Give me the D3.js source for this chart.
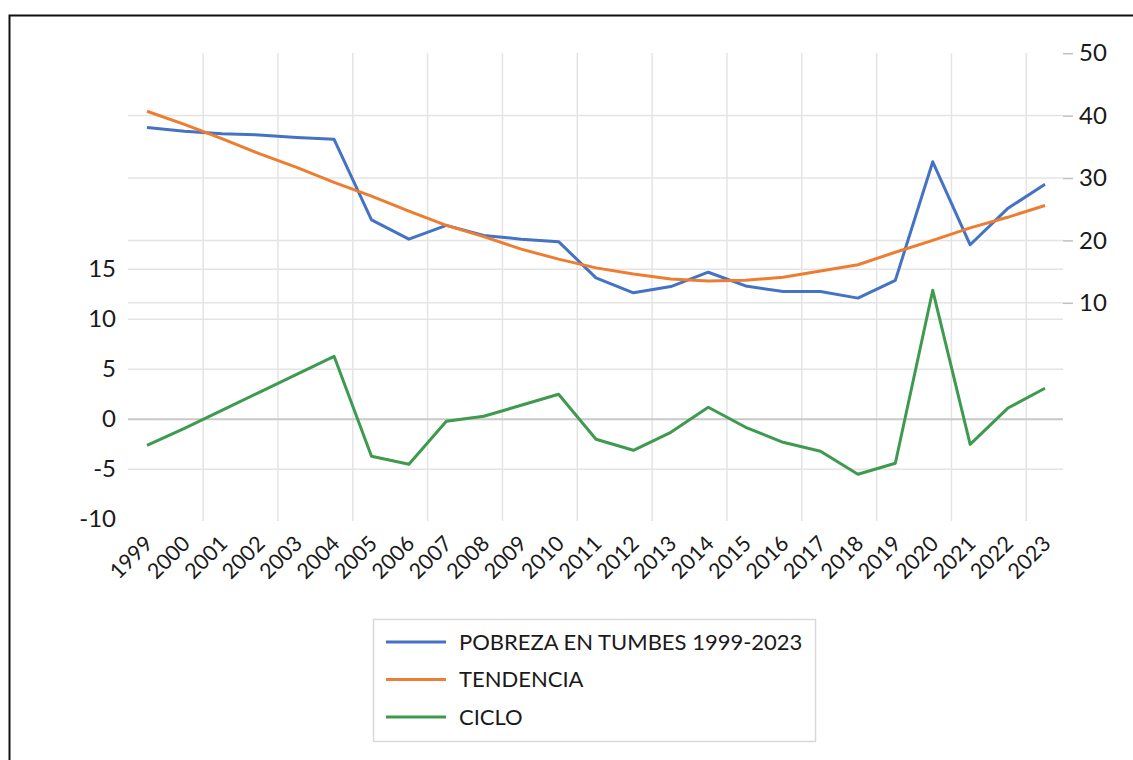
<!DOCTYPE html>
<html>
<head>
<meta charset="utf-8">
<script src="https://cdn.jsdelivr.net/npm/d3@7"></script>
<style>
  body { margin: 0; background: #fff; }
  svg text { font-family: Lato, "Noto Sans", sans-serif; fill: #1a1a1a; }
</style>
</head>
<body>
<svg width="1133" height="760"></svg>
<script>
// valores
var years = ["1999","2000","2001","2002","2003","2004","2005","2006","2007","2008","2009","2010",
             "2011","2012","2013","2014","2015","2016","2017","2018","2019","2020","2021","2022","2023"];
var pobreza = [38.1, 37.5, 37.1, 36.9, 36.5, 36.2, 23.3, 20.2, 22.4, 20.8, 20.2, 19.8,
               14.0, 11.6, 12.6, 14.9, 12.7, 11.8, 11.8, 10.75, 13.6, 32.6, 19.3, 25.1, 29.0];
var tendencia = [40.7, 38.6, 36.3, 33.9, 31.7, 29.3, 27.1, 24.7, 22.4, 20.6, 18.6, 17.0,
                 15.6, 14.6, 13.8, 13.5, 13.6, 14.1, 15.1, 16.1, 18.1, 20.0, 22.0, 23.7, 25.6];
var ciclo = [-2.6, -0.9, 0.9, 2.7, 4.5, 6.3, -3.7, -4.5, -0.2, 0.3, 1.4, 2.5,
             -2.0, -3.1, -1.3, 1.2, -0.8, -2.3, -3.2, -5.5, -4.4, 12.9, -2.5, 1.1, 3.1];
var leftTicks = [-10, -5, 0, 5, 10, 15];
var rightTicks = [10, 20, 30, 40, 50];
var seriesNames = ["POBREZA EN TUMBES 1999-2023", "TENDENCIA", "CICLO"];
var seriesColors = ["#4472c4", "#ed7d31", "#3e9a4f"];

var svg = d3.select("svg");

// marco negro
svg.append("rect")
    .attr("x", 9.5).attr("y", 15.5)
    .attr("width", 1200).attr("height", 900)
    .attr("fill", "none").attr("stroke", "#111").attr("stroke-width", 2);

var plotLeft = 128, plotRight = 1063, plotTop = 53, plotBottom = 521;

var x = d3.scaleLinear().domain([0, years.length - 1]).range([147, 1045]);
var yLeft = d3.scaleLinear().domain([-10, 15]).range([519.3, 269.3]);
var yRight = d3.scaleLinear().domain([10, 50]).range([302.8, 53.2]);

var grid = svg.append("g");

// lineas verticales (cada dos anios, entre categorias)
grid.selectAll("line.v")
    .data(d3.range(1.5, years.length, 2))
    .enter()
    .append("line")
    .attr("x1", function(d){ return x(d); })
    .attr("x2", function(d){ return x(d); })
    .attr("y1", plotTop).attr("y2", plotBottom)
    .attr("stroke", "#e4e4e4").attr("stroke-width", 1.5);

// horizontales del eje derecho
grid.selectAll("line.hr")
    .data(rightTicks.filter(function(t){ return t < 50; }))
    .enter()
    .append("line")
    .attr("x1", plotLeft).attr("x2", plotRight)
    .attr("y1", function(d){ return yRight(d); })
    .attr("y2", function(d){ return yRight(d); })
    .attr("stroke", "#e4e4e4").attr("stroke-width", 1.5);

// horizontales del eje izquierdo
grid.selectAll("line.hl")
    .data(leftTicks.filter(function(t){ return t > -10; }))
    .enter()
    .append("line")
    .attr("x1", plotLeft).attr("x2", plotRight)
    .attr("y1", function(d){ return yLeft(d); })
    .attr("y2", function(d){ return yLeft(d); })
    .attr("stroke", function(d){ return d == 0 ? "#c8c8c8" : "#e4e4e4"; })
    .attr("stroke-width", function(d){ return d == 0 ? 2 : 1.5; });

// eje izquierdo (guion normal como en excel)
var leftAxis = d3.axisLeft(yLeft).tickValues(leftTicks).tickSize(0).tickPadding(0)
    .tickFormat(function(d){ return String(d); });
svg.append("g")
    .attr("transform", "translate(116,0)")
    .call(leftAxis)
    .call(function(g){
        g.select(".domain").remove();
        g.selectAll("text").attr("font-size", 24).attr("fill", "#1a1a1a")
            .style("font-family", "Lato, 'Noto Sans', sans-serif");
    });

// eje derecho
var rightAxis = d3.axisRight(yRight).tickValues(rightTicks).tickSize(10).tickPadding(6);
svg.append("g")
    .attr("transform", "translate(" + plotRight + ",0)")
    .call(rightAxis)
    .call(function(g){
        g.select(".domain").remove();
        g.selectAll("line").attr("stroke", "#bfbfbf").attr("stroke-width", 1.5);
        g.selectAll("text").attr("font-size", 24).attr("fill", "#1a1a1a")
            .style("font-family", "Lato, 'Noto Sans', sans-serif");
    });

// etiquetas de anios giradas
svg.append("g")
    .selectAll("text")
    .data(years)
    .enter()
    .append("text")
    .attr("transform", function(d, i){
        return "translate(" + (x(i) + 7) + ",545) rotate(-45)";
    })
    .attr("text-anchor", "end")
    .attr("font-size", 21.5)
    .text(function(d){ return d; });

// lineas de datos
var lineRight = d3.line()
    .x(function(d, i){ return x(i); })
    .y(function(d){ return yRight(d); });
var lineLeft = d3.line()
    .x(function(d, i){ return x(i); })
    .y(function(d){ return yLeft(d); });

svg.append("path").datum(ciclo)
    .attr("d", lineLeft)
    .attr("fill", "none").attr("stroke", seriesColors[2])
    .attr("stroke-width", 3).attr("stroke-linejoin", "round");
svg.append("path").datum(pobreza)
    .attr("d", lineRight)
    .attr("fill", "none").attr("stroke", seriesColors[0])
    .attr("stroke-width", 3).attr("stroke-linejoin", "round");
svg.append("path").datum(tendencia)
    .attr("d", lineRight)
    .attr("fill", "none").attr("stroke", seriesColors[1])
    .attr("stroke-width", 3).attr("stroke-linejoin", "round");

// leyenda
var legend = svg.append("g");
legend.append("rect")
    .attr("x", 373.5).attr("y", 619.5)
    .attr("width", 442).attr("height", 122)
    .attr("fill", "#fff").attr("stroke", "#d9d9d9").attr("stroke-width", 1.5);

var items = legend.selectAll("g.item")
    .data(seriesNames)
    .enter()
    .append("g")
    .attr("transform", function(d, i){ return "translate(0," + (642 + i * 37.5) + ")"; });
items.append("line")
    .attr("x1", 386).attr("x2", 446)
    .attr("y1", 0).attr("y2", 0)
    .attr("stroke", function(d, i){ return seriesColors[i]; })
    .attr("stroke-width", 3);
items.append("text")
    .attr("x", 459).attr("y", 0).attr("dy", "0.36em")
    .attr("font-size", 22)
    .text(function(d){ return d; });
</script>
</body>
</html>
